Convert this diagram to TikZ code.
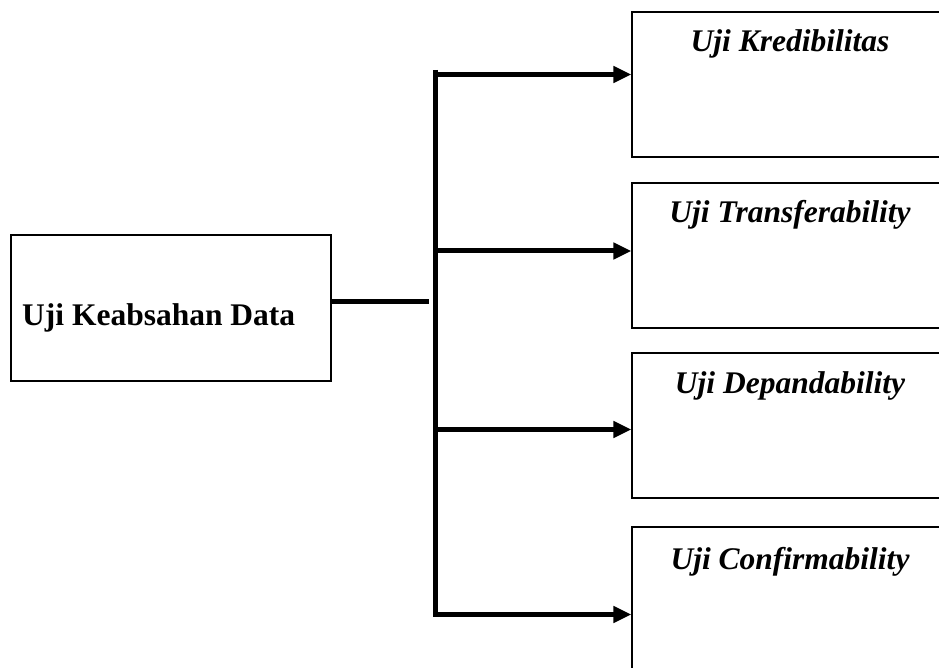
\documentclass[tikz,border=0pt]{standalone}
\usepackage{fontspec}
\setmainfont{Liberation Serif}
\usetikzlibrary{arrows.meta}
\begin{document}
\begin{tikzpicture}[x=1pt,y=-1pt,
  srcbox/.style={draw=black,line width=1.4pt,minimum width=320pt,minimum height=146pt,inner sep=0pt},
  rbox/.style={draw=black,line width=1.3pt,minimum width=316pt,minimum height=145pt,inner sep=0pt},
  lbl/.style={anchor=base,inner sep=0pt,font=\fontsize{31.5}{36}\selectfont\bfseries\itshape},
  srclbl/.style={anchor=base west,inner sep=0pt,font=\fontsize{31.5}{36}\selectfont\bfseries},
  conn/.style={line width=5pt},
  arr/.style={line width=5pt,-{Triangle[length=18pt,width=16pt]}}]
\useasboundingbox (0,0) rectangle (939,668);
\clip (0,0) rectangle (939,668);
% left box
\node[srcbox] (src) at (171,308) {};
\node[srclbl] (srct) at (22,325) {Uji Keabsahan Data};
% right boxes
\node[rbox] (b1) at (790,84.5) {};
\node[lbl] (t1) at (790,52) {Uji Kredibilitas};
\node[rbox] (b2) at (790,255.5) {};
\node[lbl] (t2) at (790,223) {Uji Transferability};
\node[rbox] (b3) at (790,425.5) {};
\node[lbl] (t3) at (790,393) {Uji Depandability};
\node[rbox] (b4) at (790,599.5) {};
\node[lbl] (t4) at (790,569) {Uji Confirmability};
% connectors
\coordinate (j) at (429,301.5);
\coordinate (top) at (435.5,70);
\coordinate (bot) at (435.5,617);
\coordinate (s1) at (433,74.5);
\coordinate (s2) at (433,251);
\coordinate (s3) at (433,429.5);
\coordinate (s4) at (433,614.5);
\draw[conn] (src.east |- j) -- (j);
\draw[conn] (top) -- (bot);
\draw[arr] (s1) -- (s1 -| b1.west);
\draw[arr] (s2) -- (s2 -| b2.west);
\draw[arr] (s3) -- (s3 -| b3.west);
\draw[arr] (s4) -- (s4 -| b4.west);
\end{tikzpicture}
\end{document}
